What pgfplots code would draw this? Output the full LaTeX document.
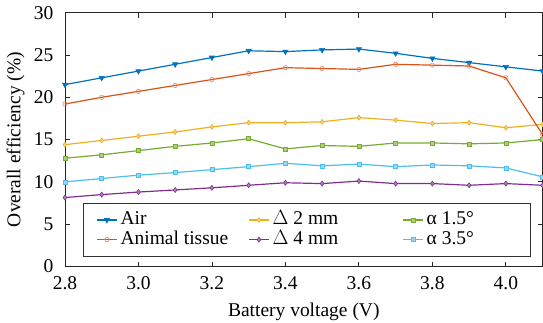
\documentclass[border=0pt]{standalone}
\usepackage{fontspec}
\setmainfont{Liberation Serif}
\usepackage{pgfplots}
\pgfplotsset{compat=1.18}
\definecolor{c1}{rgb}{0,0.447,0.741}
\definecolor{c2}{rgb}{0.85,0.325,0.098}
\definecolor{c3}{rgb}{0.929,0.694,0.125}
\definecolor{c4}{rgb}{0.494,0.184,0.556}
\definecolor{c5}{rgb}{0.466,0.674,0.188}
\definecolor{c6}{rgb}{0.301,0.745,0.933}
\begin{document}
\fontsize{19.5bp}{23bp}\selectfont
\begin{tikzpicture}
\begin{axis}[
  scale only axis, width=478bp, height=254bp,
  xmin=2.8, xmax=4.1, ymin=0, ymax=30,
  xtick={2.8,3.0,3.2,3.4,3.6,3.8,4.0},
  ytick={0,5,10,15,20,25,30},
  /pgf/number format/assume math mode=true,
  xticklabel style={/pgf/number format/fixed, /pgf/number format/fixed zerofill, /pgf/number format/precision=1, yshift=-3bp},
  yticklabel style={xshift=-5bp},
  tick align=inside, major tick length=5bp,
  axis line style={black!85, line width=0.8bp},
  every tick/.style={black!85, line width=0.8bp},
  font=\fontsize{19.5bp}{23bp}\selectfont,
  tick label style={font=\fontsize{19.5bp}{23bp}\selectfont},
  label style={font=\fontsize{19.5bp}{23bp}\selectfont},
  xlabel={Battery voltage (V)},
  ylabel={Overall efficiency (\%)},
  ylabel shift=-4bp,
  legend columns=3,
  legend image code/.code={\draw[mark repeat=2,mark phase=2,#1] plot coordinates {(0bp,0bp) (10bp,0bp) (20bp,0bp)};},
  legend style={at={(0.0377,0.251)}, anchor=north west, draw=black!80, line width=0.8bp,
    inner xsep=13bp, inner ysep=7bp, column sep=0bp,
    font=\fontsize{19.5bp}{23bp}\selectfont,
    nodes={inner ysep=1.3bp, inner xsep=3bp, text height=13bp, text depth=4bp}},
  every axis plot/.append style={line width=1.2bp},
]
\addplot[c1, mark=triangle*, mark size=3bp, mark options={solid, rotate=180, line width=0.6bp}] coordinates {
(2.8,21.5) (2.9,22.3) (3.0,23.1) (3.1,23.9) (3.2,24.7) (3.3,25.5) (3.4,25.4) (3.5,25.6) (3.6,25.7) (3.7,25.2) (3.8,24.6) (3.9,24.1) (4.0,23.6) (4.1,23.1)};
\addlegendentry{\makebox[125bp][l]{Air}}
\addplot[c3, mark=diamond*, mark size=2.5bp, mark options={solid, fill=c3!60, line width=0.6bp}] coordinates {
(2.8,14.4) (2.9,14.9) (3.0,15.4) (3.1,15.9) (3.2,16.5) (3.3,17.0) (3.4,17.0) (3.5,17.1) (3.6,17.6) (3.7,17.3) (3.8,16.9) (3.9,17.0) (4.0,16.4) (4.1,16.8)};
\addlegendentry{\makebox[127bp][l]{$\Delta$ 2 mm}}
\addplot[c5, mark=square*, mark size=2bp, mark options={solid, fill=c5!60, line width=0.6bp}] coordinates {
(2.8,12.8) (2.9,13.2) (3.0,13.7) (3.1,14.2) (3.2,14.6) (3.3,15.1) (3.4,13.9) (3.5,14.3) (3.6,14.2) (3.7,14.6) (3.8,14.6) (3.9,14.5) (4.0,14.6) (4.1,15.0)};
\addlegendentry{\makebox[88bp][l]{α 1.5°}}
\addplot[c2, mark=o, mark size=2.2bp, mark options={solid, draw=c2!70, fill=white, line width=0.6bp}] coordinates {
(2.8,19.2) (2.9,20.0) (3.0,20.7) (3.1,21.4) (3.2,22.1) (3.3,22.8) (3.4,23.5) (3.5,23.4) (3.6,23.3) (3.7,23.9) (3.8,23.8) (3.9,23.7) (4.0,22.3) (4.1,15.6)};
\addlegendentry{\makebox[125bp][l]{Animal tissue}}
\addplot[c4, mark=diamond*, mark size=2.5bp, mark options={solid, fill=c4!60, line width=0.6bp}] coordinates {
(2.8,8.15) (2.9,8.5) (3.0,8.8) (3.1,9.05) (3.2,9.3) (3.3,9.6) (3.4,9.9) (3.5,9.8) (3.6,10.1) (3.7,9.8) (3.8,9.8) (3.9,9.6) (4.0,9.8) (4.1,9.6)};
\addlegendentry{\makebox[127bp][l]{$\Delta$ 4 mm}}
\addplot[c6, mark=square*, mark size=2bp, mark options={solid, fill=c6!60, line width=0.6bp}] coordinates {
(2.8,10.0) (2.9,10.4) (3.0,10.8) (3.1,11.1) (3.2,11.45) (3.3,11.8) (3.4,12.2) (3.5,11.9) (3.6,12.1) (3.7,11.8) (3.8,12.0) (3.9,11.9) (4.0,11.65) (4.1,10.6)};
\addlegendentry{\makebox[88bp][l]{α 3.5°}}
\end{axis}
\pgfresetboundingbox
\path[use as bounding box] ([xshift=-65bp,yshift=-56.3bp]current axis.south west) rectangle ([xshift=0.4bp,yshift=12.7bp]current axis.north east);
\end{tikzpicture}
\end{document}
